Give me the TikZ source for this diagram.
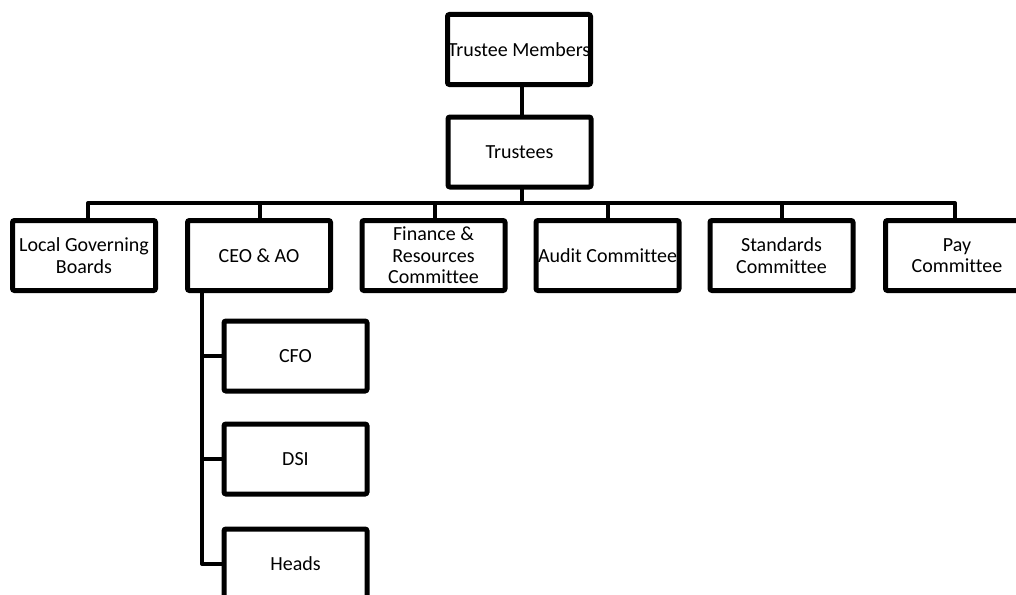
\documentclass[tikz,border=0pt]{standalone}
\usepackage{fontspec}
\setmainfont{Carlito}[Ligatures=NoCommon]
\newcommand{\fitline}[1]{\makebox[120pt][c]{#1}}
\begin{document}
\begin{tikzpicture}[x=1pt,y={(0pt,-1pt)},
  box/.style={draw=black,line width=5pt,rounded corners=2pt,fill=white,minimum width=143pt,minimum height=70pt,inner sep=0pt,align=center,font=\fontsize{20}{21.5}\selectfont},
  conn/.style={draw=black,line width=4pt,line join=round,line cap=round}]
\useasboundingbox (0,0) rectangle (1016,594);
\clip (0,0) rectangle (1016,594);
\fill[white] (0,0) rectangle (1016,594);
\node[box] (tm) at (519,49.5) {\fitline{Trustee Members}};
\node[box] (tr) at (519.5,152) {Trustees};
\node[box] (lgb) at (84,255.5) {\fitline{Local Governing}\\Boards};
\node[box] (ceo) at (259,255.5) {CEO \& AO};
\node[box] (fr) at (433.5,255.5) {Finance \&\\Resources\\Committee};
\node[box] (au) at (607.5,255.5) {\fitline{Audit Committee}};
\node[box] (st) at (781.5,255.5) {Standards\\Committee};
\node[box] (pay) at (957,255.5) {Pay\\Committee};
\node[box] (cfo) at (295.5,356) {CFO};
\node[box] (dsi) at (295.5,459) {DSI};
\node[box] (hd) at (295.5,564) {Heads};
\coordinate (bl) at (88,203);
\coordinate (br) at (955,203);
\coordinate (ct) at (522,203);
\coordinate (vtop) at (202,293);
\draw[conn] (tm.south -| ct) -- (tr.north -| ct);
\draw[conn] (tr.south -| ct) -- (ct);
\draw[conn] (lgb.north -| bl) -- (bl) -- (br) -- (pay.north -| br);
\draw[conn] (260,203) -- (ceo.north -| 260,0);
\draw[conn] (435,203) -- (fr.north -| 435,0);
\draw[conn] (608,203) -- (au.north -| 608,0);
\draw[conn] (782,203) -- (st.north -| 782,0);
\draw[conn] (ceo.south -| vtop) -- (hd.west -| vtop) -- (hd.west);
\draw[conn] (cfo.west -| vtop) -- (cfo.west);
\draw[conn] (dsi.west -| vtop) -- (dsi.west);
\end{tikzpicture}
\end{document}
